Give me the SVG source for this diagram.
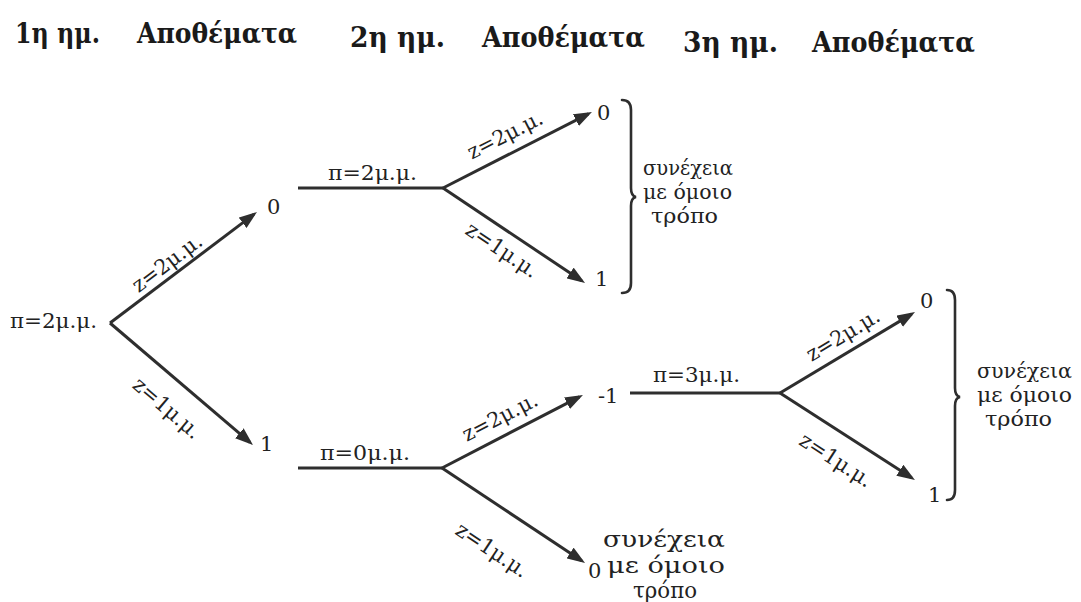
<svg xmlns="http://www.w3.org/2000/svg" width="1081" height="602" viewBox="0 0 1081 602">
<style>
.title{font-family:"DejaVu Serif","Liberation Serif",serif;font-weight:bold;font-size:27px;fill:#1a1a1a}
.t{font-family:"DejaVu Serif","Liberation Serif",serif;font-size:21px;fill:#222}
.lbl{font-family:"DejaVu Serif","Liberation Serif",serif;font-size:21px;fill:#222;text-anchor:middle}
.note{font-family:"DejaVu Serif","Liberation Serif",serif;font-size:21px;fill:#222}
.note2{font-family:"DejaVu Serif","Liberation Serif",serif;font-size:22px;fill:#222}
.edge{stroke:#2e2e2e;stroke-width:3;fill:none}
.brace{stroke:#2e2e2e;stroke-width:2.6;fill:none;stroke-linecap:round}
</style>
<defs>
<marker id="ah" markerUnits="userSpaceOnUse" markerWidth="18" markerHeight="13" refX="14" refY="6.5" orient="auto">
<path d="M0,0 L18,6.5 L0,13 z" fill="#2e2e2e"/>
</marker>
</defs>
<rect width="1081" height="602" fill="#fff"/>
<g id="titles">
<text class="title" y="43"><tspan x="15" textLength="85" lengthAdjust="spacingAndGlyphs">1η ημ.</tspan><tspan x="137" textLength="160" lengthAdjust="spacingAndGlyphs">Αποθέματα</tspan></text>
<text class="title" y="47"><tspan x="350" textLength="95" lengthAdjust="spacingAndGlyphs">2η ημ.</tspan><tspan x="482" textLength="163" lengthAdjust="spacingAndGlyphs">Αποθέματα</tspan></text>
<text class="title" y="52"><tspan x="683" textLength="95" lengthAdjust="spacingAndGlyphs">3η ημ.</tspan><tspan x="812" textLength="163" lengthAdjust="spacingAndGlyphs">Αποθέματα</tspan></text>
</g>
<g id="connectors">
<line class="edge" x1="110" y1="323" x2="253.8" y2="214.4" marker-end="url(#ah)"/>
<line class="edge" x1="110" y1="323" x2="250" y2="442.4" marker-end="url(#ah)"/>
<line class="edge" x1="298" y1="188" x2="443" y2="188"/>
<line class="edge" x1="443" y1="188" x2="588.4" y2="113.8" marker-end="url(#ah)"/>
<line class="edge" x1="443" y1="188" x2="581.7" y2="280.8" marker-end="url(#ah)"/>
<line class="edge" x1="298" y1="468" x2="442" y2="468"/>
<line class="edge" x1="442" y1="468" x2="579.4" y2="396.8" marker-end="url(#ah)"/>
<line class="edge" x1="442" y1="468" x2="581.7" y2="560.8" marker-end="url(#ah)"/>
<line class="edge" x1="630" y1="393" x2="780" y2="393"/>
<line class="edge" x1="780" y1="393" x2="911.6" y2="314.1" marker-end="url(#ah)"/>
<line class="edge" x1="780" y1="393" x2="911.6" y2="477.8" marker-end="url(#ah)"/>
</g>
<g id="edge-labels">
<text class="lbl" transform="translate(167,263) rotate(-37)" y="7" textLength="82" lengthAdjust="spacingAndGlyphs">z=2μ.μ.</text>
<text class="lbl" transform="translate(167,408) rotate(40.5)" y="7" textLength="82" lengthAdjust="spacingAndGlyphs">z=1μ.μ.</text>
<text class="lbl" transform="translate(505,135) rotate(-27)" y="7" textLength="82" lengthAdjust="spacingAndGlyphs">z=2μ.μ.</text>
<text class="lbl" transform="translate(502,250) rotate(33.8)" y="7" textLength="82" lengthAdjust="spacingAndGlyphs">z=1μ.μ.</text>
<text class="lbl" transform="translate(500,417) rotate(-27.4)" y="7" textLength="82" lengthAdjust="spacingAndGlyphs">z=2μ.μ.</text>
<text class="lbl" transform="translate(492,550) rotate(33.6)" y="7" textLength="82" lengthAdjust="spacingAndGlyphs">z=1μ.μ.</text>
<text class="lbl" transform="translate(843,335) rotate(-31)" y="7" textLength="82" lengthAdjust="spacingAndGlyphs">z=2μ.μ.</text>
<text class="lbl" transform="translate(836,460) rotate(32.8)" y="7" textLength="82" lengthAdjust="spacingAndGlyphs">z=1μ.μ.</text>
<text class="t" x="328" y="180" textLength="89" lengthAdjust="spacingAndGlyphs">π=2μ.μ.</text>
<text class="t" x="320" y="460" textLength="90" lengthAdjust="spacingAndGlyphs">π=0μ.μ.</text>
<text class="t" x="653" y="382" textLength="87" lengthAdjust="spacingAndGlyphs">π=3μ.μ.</text>
</g>
<g id="node-root"><text class="t" x="10" y="328" textLength="87" lengthAdjust="spacingAndGlyphs">π=2μ.μ.</text></g>
<g id="node-d1-0"><text class="t" x="267" y="214">0</text></g>
<g id="node-d1-1"><text class="t" x="260" y="451">1</text></g>
<g id="node-d2-0"><text class="t" x="597" y="120">0</text></g>
<g id="node-d2-1"><text class="t" x="595" y="286">1</text></g>
<g id="node-d2-m1"><text class="t" x="598" y="403">-1</text></g>
<g id="node-d2-0b"><text class="t" x="588" y="578">0</text></g>
<g id="node-d3-0"><text class="t" x="920" y="308">0</text></g>
<g id="node-d3-1"><text class="t" x="928" y="502">1</text></g>
<g id="note-top">
<path class="brace" d="M622,100 Q631,100 631,110 L631,188 Q631,196 636,197 Q631,198 631,206 L631,283 Q631,293 622,293"/>
<text class="note" x="643" y="175" textLength="90" lengthAdjust="spacingAndGlyphs">συνέχεια</text>
<text class="note" x="643" y="199" textLength="89" lengthAdjust="spacingAndGlyphs">με όμοιο</text>
<text class="note" x="651" y="223" textLength="67" lengthAdjust="spacingAndGlyphs">τρόπο</text>
</g>
<g id="note-right">
<path class="brace" d="M947,290 Q955,290 955,300 L955,388 Q955,396 960,397 Q955,398 955,406 L955,490 Q955,500 947,500"/>
<text class="note" x="977" y="378" textLength="95" lengthAdjust="spacingAndGlyphs">συνέχεια</text>
<text class="note" x="977" y="402" textLength="95" lengthAdjust="spacingAndGlyphs">με όμοιο</text>
<text class="note" x="985" y="426" textLength="67" lengthAdjust="spacingAndGlyphs">τρόπο</text>
</g>
<g id="note-bottom">
<text class="note2" x="603" y="547" textLength="122" lengthAdjust="spacingAndGlyphs">συνέχεια</text>
<text class="note2" x="607" y="573" textLength="118" lengthAdjust="spacingAndGlyphs">με όμοιο</text>
<text class="note2" x="633" y="598" textLength="64" lengthAdjust="spacingAndGlyphs">τρόπο</text>
</g>
</svg>
